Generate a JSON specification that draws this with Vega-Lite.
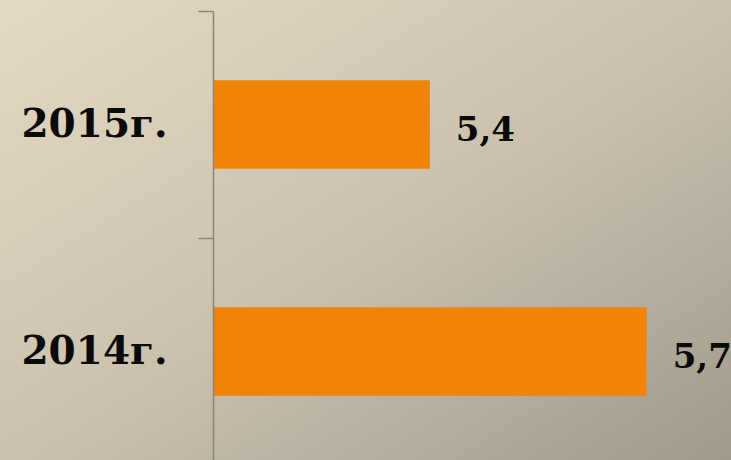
{
  "$schema": "https://vega.github.io/schema/vega-lite/v6.json",
  "width": 731,
  "height": 460,
  "padding": 0,
  "autosize": {"type": "none"},
  "background": "#d2c8b2",
  "config": {
    "view": {
      "stroke": null,
      "fill": {
        "gradient": "linear",
        "x1": 0, "y1": 0, "x2": 1, "y2": 1,
        "stops": [
          {"offset": 0, "color": "#e4dac3"},
          {"offset": 0.5, "color": "#cbc2ae"},
          {"offset": 1, "color": "#a09a8c"}
        ]
      }
    },
    "locale": {
      "number": {"decimal": ",", "thousands": " ", "grouping": [3], "currency": ["", " ₽"]}
    }
  },
  "data": {
    "values": [
      {"year": "2015г.", "value": 5.4},
      {"year": "2014г.", "value": 5.7}
    ]
  },
  "encoding": {
    "y": {
      "field": "year",
      "type": "nominal",
      "sort": ["2015г.", "2014г."],
      "scale": {"range": [11, 465], "paddingInner": 0, "paddingOuter": 0},
      "axis": {
        "title": null,
        "offset": -213,
        "zindex": 1,
        "tickBand": "extent",
        "tickSize": 15,
        "tickColor": "#858585",
        "tickWidth": 1.5,
        "domainColor": "#858585",
        "domainWidth": 1.5,
        "labelPadding": 31,
        "labelFont": "DejaVu Serif",
        "labelFontWeight": "bold",
        "labelFontSize": 39,
        "labelColor": "#0a0a0a"
      }
    },
    "x": {
      "field": "value",
      "type": "quantitative",
      "scale": {"domain": [5.1, 5.8], "range": [213, 719], "zero": false},
      "axis": null
    }
  },
  "layer": [
    {
      "mark": {"type": "bar", "color": "#f28309", "height": {"band": 0.39}, "clip": false},
      "encoding": {
        "x2": {"datum": 5.1}
      }
    },
    {
      "mark": {
        "type": "text",
        "align": "left",
        "baseline": "middle",
        "dx": 26,
        "dy": 6,
        "font": "DejaVu Serif",
        "fontWeight": "bold",
        "fontSize": 34,
        "color": "#0a0a0a"
      },
      "encoding": {
        "text": {"field": "value", "type": "quantitative", "format": ".1f"}
      }
    }
  ]
}
